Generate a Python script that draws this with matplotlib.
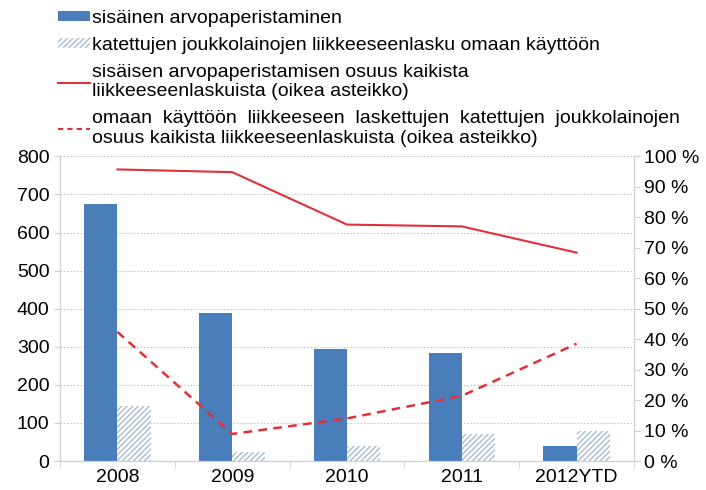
import matplotlib
matplotlib.use("Agg")
from matplotlib import pyplot as plt
from matplotlib.patches import Patch
from matplotlib.lines import Line2D
import numpy as np

plt.rcParams["font.family"] = ["Liberation Sans", "DejaVu Sans"]
plt.rcParams["hatch.linewidth"] = 1.0

years = ["2008", "2009", "2010", "2011", "2012YTD"]
sisainen = [675, 388, 295, 285, 40]
katetut = [145, 24, 40, 70, 78]
osuus_sisainen = [95.7, 94.8, 77.6, 77.0, 68.4]
osuus_katetut = [42.4, 8.9, 14.0, 21.4, 38.5]

labels = [
    "sisäinen arvopaperistaminen",
    "katettujen joukkolainojen liikkeeseenlasku omaan käyttöön",
    "sisäisen arvopaperistamisen osuus kaikista\nliikkeeseenlaskuista (oikea asteikko)",
    "omaan  käyttöön  liikkeeseen  laskettujen  katettujen  joukkolainojen\n"
    "osuus kaikista liikkeeseenlaskuista (oikea asteikko)",
]

blue = "#4a7ebb"
hatch_col = "#a9bccd"
red = "#e0303a"
grid_col = "#c8c8c8"

fig = plt.figure(figsize=(7.06, 4.9), dpi=100)
ax = fig.add_axes([0.085, 0.059, 0.813, 0.622])
ax2 = ax.twinx()

x = np.arange(len(years))
w = 0.29
ax.bar(x - w / 2, sisainen, w, color=blue, zorder=2)
ax.bar(x + w / 2, katetut, w, facecolor="white", edgecolor=hatch_col,
       hatch="//////", linewidth=0, zorder=2)

ax2.plot(x, osuus_sisainen, color=red, lw=1.5)
ax2.plot(x, osuus_katetut, color=red, lw=1.8, ls=(0, (3.5, 2.5)))

ax.set_xlim(-0.5, len(years) - 0.5)
ax.set_ylim(0, 800)
ax2.set_ylim(0, 100)
ax.set_yticks(range(0, 801, 100))
ax2.set_yticks(range(0, 101, 10))
ax2.set_yticklabels(["%d %%" % v for v in range(0, 101, 10)])
ax.set_xticks(x)
ax.set_xticklabels(years)
ax.set_xticks(np.arange(-0.5, len(years)), minor=True)

ax.yaxis.grid(True, color=grid_col, ls=(0, (1.5, 1.5)), lw=0.8)
ax.set_axisbelow(True)

for a in (ax, ax2):
    a.spines["top"].set_visible(False)
    for s in ("left", "right", "bottom"):
        a.spines[s].set_color("#d0d0d0")
    a.tick_params(labelsize=14, colors="#d0d0d0", labelcolor="black",
                  length=4)
ax.tick_params(axis="x", which="major", length=0, pad=6)
ax.tick_params(axis="x", which="minor", length=5, colors="#d0d0d0")

handles = [
    Patch(facecolor=blue, edgecolor="none"),
    Patch(facecolor="white", edgecolor=hatch_col, hatch="//////", linewidth=0),
    Line2D([], [], color=red, lw=1.5),
    Line2D([], [], color=red, lw=1.5, ls=(0, (2.5, 2))),
]
leg = fig.legend(handles, labels, loc="upper left",
                 bbox_to_anchor=(0.058, 1.015), frameon=False, fontsize=14,
                 handlelength=1.6, handleheight=0.4, handletextpad=0.15,
                 labelspacing=0.5)
for t in leg.get_texts():
    t.set_linespacing(1.22)

fig.savefig("out.png", dpi=100)
